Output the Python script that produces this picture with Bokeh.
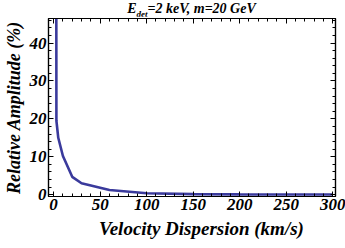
from bokeh.plotting import figure
from bokeh.models import Range1d, LinearAxis, FixedTicker, Div
from bokeh.layouts import column
from bokeh.embed import file_html
from bokeh.resources import INLINE

# data
velocity = [2.8, 3, 5, 10, 20, 30, 60, 100, 150, 200, 250, 300]
amplitude = [80, 19.5, 15.0, 10.2, 4.7, 3.0, 1.2, 0.35, 0.12, 0.06, 0.03, 0.02]
x_ticks = [0, 50, 100, 150, 200, 250, 300]
y_ticks = [0, 10, 20, 30, 40]
x_minor = [v for v in range(-10, 310, 10)]
y_minor = [v for v in range(0, 48, 2)]

FONT = "Liberation Serif"
col = "#3a3a9c"

p = figure(width=345, height=232, output_backend="svg", toolbar_location=None,
           x_range=Range1d(-5.5, 303), y_range=Range1d(-0.5, 46.5),
           min_border_left=48, min_border_right=10, min_border_top=2, min_border_bottom=52,
           x_axis_location=None, y_axis_location=None)
p.outline_line_color = "black"
p.outline_line_width = 1.2
p.grid.visible = False
p.background_fill_color = "white"
p.border_fill_color = "white"

p.line(velocity, amplitude, line_color=col, line_width=2.6)

def style(ax, labels=True, ticks=None, minor=None):
    ax.ticker = FixedTicker(ticks=ticks, minor_ticks=minor)
    ax.major_tick_in = 5
    ax.major_tick_out = 0
    ax.minor_tick_in = 3
    ax.minor_tick_out = 0
    ax.axis_line_color = "black"
    ax.axis_line_width = 1.2
    ax.major_tick_line_color = "black"
    ax.minor_tick_line_color = "black"
    ax.major_label_text_font = FONT
    ax.major_label_text_font_style = "bold italic"
    ax.major_label_text_font_size = "17px"
    ax.major_label_text_color = "black" if labels else None
    ax.axis_label_text_font = FONT
    ax.axis_label_text_font_style = "bold italic"
    ax.axis_label_text_color = "black"

xb = LinearAxis(axis_label="\u2003Velocity Dispersion (km/s)")
style(xb, True, x_ticks, x_minor)
xb.axis_label_text_font_size = "19px"
xb.major_label_standoff = 2
xb.axis_label_standoff = 5
p.add_layout(xb, "below")

yl = LinearAxis(axis_label="Relative Amplitude (%)")
style(yl, True, y_ticks, y_minor)
yl.axis_label_text_font_size = "18px"
yl.major_label_standoff = 2
yl.axis_label_standoff = 3
p.add_layout(yl, "left")

xt = LinearAxis()
style(xt, False, x_ticks, x_minor)
xt.major_label_text_font_size = "0px"
xt.major_label_standoff = 0
p.add_layout(xt, "above")

yr = LinearAxis()
style(yr, False, y_ticks, y_minor)
yr.major_label_text_font_size = "0px"
yr.major_label_standoff = 0
p.add_layout(yr, "right")

title = Div(text="<i><b>E<sub style='font-size:9px'>det</sub>=2 keV, m=20 GeV</b></i>",
            width=287, height=16, margin=(0, 10, 0, 48),
            styles={"font-family": "Liberation Serif", "font-size": "14px",
                    "text-align": "center", "line-height": "18px", "color": "black"})

layout = column(title, p, spacing=0, margin=(0, 0, 0, 0))
open("out.html", "w").write(file_html(layout, INLINE))
